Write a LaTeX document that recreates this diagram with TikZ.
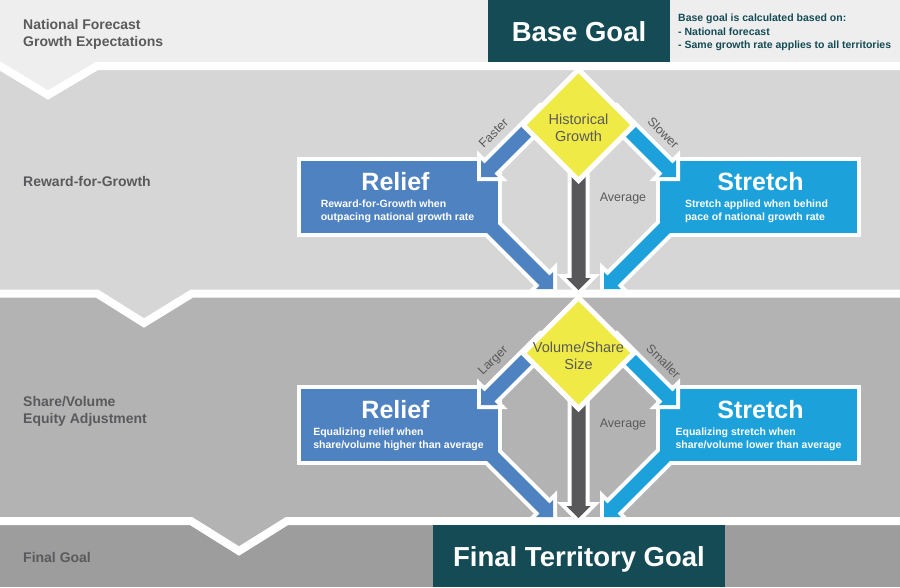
\documentclass[tikz,border=0pt]{standalone}
\usepackage{fontspec}
\setmainfont{Liberation Sans}
\usetikzlibrary{calc,positioning,shapes.geometric}

\definecolor{bandA}{HTML}{EEEEEE}
\definecolor{bandB}{HTML}{D6D6D6}
\definecolor{bandC}{HTML}{B3B3B4}
\definecolor{bandD}{HTML}{9D9D9E}
\definecolor{goalteal}{HTML}{144B55}
\definecolor{reliefblue}{HTML}{4F82C1}
\definecolor{stretchblue}{HTML}{1DA1DB}
\definecolor{avgdark}{HTML}{58585B}
\definecolor{decyellow}{HTML}{EFEA45}
\definecolor{labelgray}{HTML}{5A5A5C}

\newcommand{\arrowends}[3]{%
  \coordinate (#1-s) at #2;
  \coordinate (#1-t) at #3;
  \coordinate (#1-h) at ($(#1-t)!12pt!(#1-s)$);}
\newcommand{\fatarrow}[2]{%
  \filldraw[#1] ($(#2-s)!7pt!90:(#2-t)$) -- ($(#2-h)!7pt!-90:(#2-s)$)
    -- ($(#2-h)!12pt!-90:(#2-s)$) -- (#2-t) -- ($(#2-h)!12pt!90:(#2-s)$)
    -- ($(#2-h)!7pt!90:(#2-s)$) -- ($(#2-s)!7pt!-90:(#2-t)$) -- cycle;}

\begin{document}
\begin{tikzpicture}[x=1pt,y=-1pt,
  sepline/.style={draw=white, line width=8pt, line join=miter},
  goalbox/.style={fill=goalteal, text=white, font=\fontsize{27.5}{30}\selectfont\bfseries,
    inner sep=0pt, text height=20pt, text depth=0pt},
  sidelabel/.style={text=labelgray, font=\fontsize{14}{17}\selectfont\bfseries,
    align=left, anchor=west, inner sep=0pt},
  boxshape/.style={draw=white, line width=4pt, minimum width=201pt, minimum height=76pt, inner sep=0pt},
  boxtitle/.style={text=white, font=\fontsize{25}{28}\selectfont\bfseries, inner sep=0pt, anchor=base},
  boxtext/.style={text=white, font=\fontsize{10.5}{13}\selectfont\bfseries, align=left,
    inner sep=0pt, anchor=north},
  decision/.style={diamond, fill=decyellow, draw=white, line width=5pt,
    minimum width=113pt, minimum height=113pt, inner sep=0pt},
  dectext/.style={text=labelgray, font=\fontsize{14.5}{17.5}\selectfont, align=center, inner sep=0pt},
  branch/.style={text=labelgray, font=\fontsize{12.5}{15}\selectfont, inner sep=0pt},
  arrowline/.style={fill=white, draw=white, line width=8pt, line join=miter}]

\useasboundingbox (0,0) rectangle (900,587);

% bands
\fill[bandD] (0,0) rectangle (900,587);
\fill[bandC] (0,0) rectangle (900,521);
\fill[bandC] (191,521) -- (239,551) -- (287,521) -- cycle;
\fill[bandB] (0,0) rectangle (900,293.5);
\fill[bandB] (97,293.5) -- (144,323) -- (192,293.5) -- cycle;
\fill[bandA] (0,0) rectangle (900,66);
\fill[bandA] (0,66) -- (48,95) -- (97,66) -- cycle;
\draw[sepline] (-10,60) -- (48,95) -- (97,66) -- (910,66);
\draw[sepline] (-10,293.5) -- (97,293.5) -- (144,323) -- (192,293.5) -- (910,293.5);
\draw[sepline] (-10,521) -- (191,521) -- (239,551) -- (287,521) -- (910,521);

% goals
\node[goalbox, minimum width=182pt, minimum height=62pt] (base) at (579,31) {Base Goal};
\node[goalbox, minimum width=292pt, minimum height=62pt] (final) at (579,556) {Final Territory Goal};
\node[anchor=north west, inner sep=0pt, align=left, text=goalteal,
  font=\fontsize{10.5}{13.5}\selectfont\bfseries] (basenote) at (678,14)
  {Base goal is calculated based on:\\- National forecast\\- Same growth rate applies to all territories};

% band labels
\node[sidelabel] (natl) at (23,34) {National Forecast\\Growth Expectations};
\node[sidelabel] (rfg) at (23,181) {Reward-for-Growth};
\node[sidelabel] (equity) at (23,411) {Share/Volume\\Equity Adjustment};
\node[sidelabel] (fgoal) at (23,557) {Final Goal};

% decision blocks
\foreach \n in {0,1}{
  \pgfmathsetmacro{\dy}{228*\n}
  \coordinate (dc\n) at (578.5,125+\dy);
  \arrowends{ro\n}{(470,206+\dy)}{(553,289+\dy)}
  \arrowends{so\n}{(687,206+\dy)}{(604,289+\dy)}
  \arrowends{av\n}{(578.5,140+\dy)}{(578.5,290+\dy)}
  \arrowends{ri\n}{(545,113+\dy)}{(481,177+\dy)}
  \arrowends{si\n}{(612,113+\dy)}{(676,177+\dy)}
  \fatarrow{arrowline}{ro\n}
  \fatarrow{arrowline}{so\n}
  \fatarrow{arrowline}{av\n}
  \node[boxshape, fill=reliefblue] (relief\n) at (399.5,197+\dy) {};
  \node[boxshape, fill=stretchblue] (stretch\n) at (758.5,197+\dy) {};
  \fatarrow{draw=none, fill=reliefblue}{ro\n}
  \fatarrow{draw=none, fill=stretchblue}{so\n}
  \fatarrow{draw=none, fill=avgdark}{av\n}
  \fatarrow{arrowline}{ri\n}
  \fatarrow{draw=none, fill=reliefblue}{ri\n}
  \fatarrow{arrowline}{si\n}
  \fatarrow{draw=none, fill=stretchblue}{si\n}
  \node[decision] (dec\n) at (dc\n) {};
}

% texts
\node[dectext] at ($(dec0)+(0,3)$) {Historical\\Growth};
\node[dectext] at ($(dec1)+(0,3)$) {Volume/Share\\Size};
\node[boxtitle] at ($(relief0)+(-4,-7)$) {Relief};
\node[boxtext] at ($(relief0)+(-2,2.5)$) {Reward-for-Growth when\\outpacing national growth rate};
\node[boxtitle] at ($(stretch0)+(2,-7)$) {Stretch};
\node[boxtext] at ($(stretch0)+(-2,2.5)$) {Stretch applied when behind\\pace of national growth rate};
\node[boxtitle] at ($(relief1)+(-4,-7)$) {Relief};
\node[boxtext] at ($(relief1)+(-1,2.5)$) {Equalizing relief when\\share/volume higher than average};
\node[boxtitle] at ($(stretch1)+(2,-7)$) {Stretch};
\node[boxtext] at ($(stretch1)+(0,2.5)$) {Equalizing stretch when\\share/volume lower than average};
\node[branch, rotate=45] at ($(dec0)+(-85,8)$) {Faster};
\node[branch, rotate=-45] at ($(dec0)+(85,8)$) {Slower};
\node[branch] at ($(dec0)+(44.5,73)$) {Average};
\node[branch, rotate=45] at ($(dec1)+(-85,8)$) {Larger};
\node[branch, rotate=-45] at ($(dec1)+(85,8)$) {Smaller};
\node[branch] at ($(dec1)+(44.5,71)$) {Average};

\end{tikzpicture}
\end{document}
